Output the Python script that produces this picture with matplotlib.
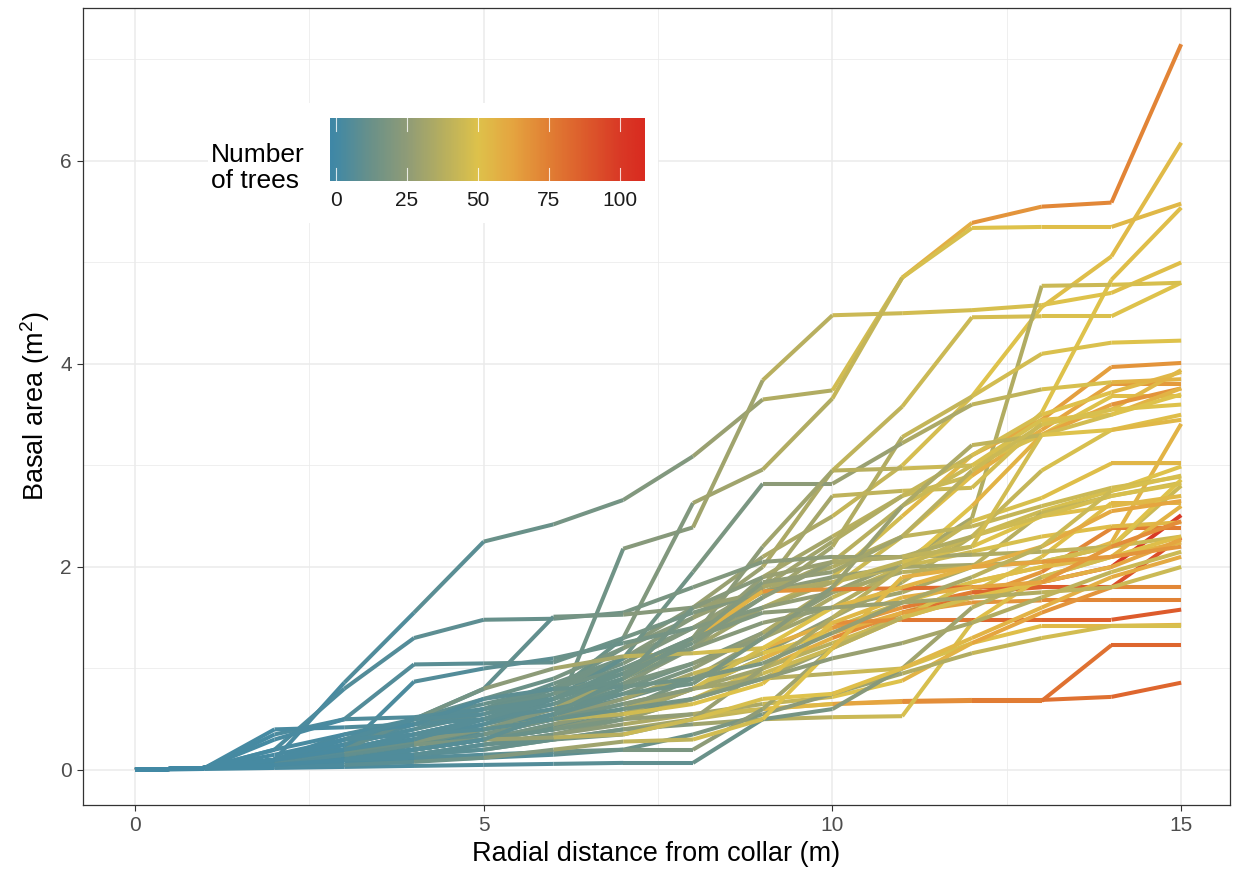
import matplotlib
matplotlib.use('Agg')
import matplotlib.pyplot as plt
import numpy as np
from matplotlib.collections import LineCollection
from matplotlib.colors import LinearSegmentedColormap, Normalize
from matplotlib.patches import Rectangle

plt.rcParams['font.family'] = ['Liberation Sans', 'DejaVu Sans']
plt.rcParams['mathtext.default'] = 'regular'

# radial distance (m)
distance = list(range(16))

# cumulative basal area (m2) per plot, one row per plot
basal_area = [
    [0, 0.02, 0.1, 0.86, 1.55, 2.25, 2.42, 2.66, 3.09, 3.65, 3.74, 4.85, 5.39, 5.55, 5.59, 7.15],
    [0, 0.02, 0.1, 0.3, 0.45, 0.6, 0.8, 1.2, 1.6, 2.1, 2.5, 3.0, 3.68, 4.56, 5.06, 6.18],
    [0, 0.02, 0.05, 0.1, 0.25, 0.35, 0.5, 0.8, 1.3, 1.9, 2.3, 2.7, 2.9, 3.52, 4.83, 5.54],
    [0, 0.02, 0.1, 0.2, 0.3, 0.35, 0.5, 2.18, 2.39, 3.84, 4.48, 4.5, 4.53, 4.58, 4.7, 5.0],
    [0, 0.02, 0.1, 0.2, 0.35, 0.5, 0.75, 1.3, 2.63, 2.96, 3.66, 4.85, 5.34, 5.35, 5.35, 5.58],
    [0, 0.02, 0.1, 0.25, 0.4, 0.55, 0.8, 1.1, 1.5, 2.0, 2.95, 3.58, 4.46, 4.47, 4.47, 4.8],
    [0, 0.02, 0.05, 0.15, 0.3, 0.45, 0.6, 0.8, 1.05, 1.35, 1.75, 2.05, 2.48, 4.77, 4.78, 4.8],
    [0, 0.02, 0.1, 0.2, 0.35, 0.5, 0.7, 0.95, 1.3, 1.7, 2.2, 3.28, 3.68, 4.1, 4.21, 4.23],
    [0, 0.02, 0.08, 0.2, 0.3, 0.45, 0.6, 0.85, 1.2, 1.6, 1.9, 2.5, 3.1, 3.45, 3.97, 4.01],
    [0, 0.02, 0.05, 0.12, 0.25, 0.4, 0.55, 0.75, 1.0, 1.35, 1.8, 2.3, 2.9, 3.35, 3.8, 3.8],
    [0, 0.02, 0.1, 0.25, 0.4, 0.6, 0.85, 1.1, 1.4, 1.75, 2.05, 2.6, 3.0, 3.3, 3.68, 3.68],
    [0, 0.02, 0.1, 0.2, 0.3, 0.5, 0.65, 0.9, 1.2, 1.8, 2.7, 2.75, 2.78, 3.42, 3.55, 3.94],
    [0, 0.02, 0.05, 0.1, 0.2, 0.3, 0.45, 0.6, 0.9, 1.3, 1.7, 2.0, 2.6, 3.3, 3.6, 3.76],
    [0, 0.02, 0.1, 0.25, 0.45, 0.6, 0.8, 1.05, 1.4, 1.8, 2.25, 2.7, 3.1, 3.5, 3.72, 3.92],
    [0, 0.02, 0.05, 0.15, 0.3, 0.45, 0.7, 1.1, 1.95, 2.82, 2.82, 3.22, 3.6, 3.75, 3.82, 3.85],
    [0, 0.02, 0.08, 0.2, 0.35, 0.5, 0.7, 1.0, 1.3, 2.2, 2.95, 2.97, 3.0, 3.45, 3.5, 3.76],
    [0, 0.02, 0.05, 0.1, 0.2, 0.3, 0.42, 0.55, 0.8, 1.1, 1.4, 1.65, 1.85, 2.0, 2.24, 3.41],
    [0, 0.02, 0.1, 0.2, 0.35, 0.5, 0.65, 0.85, 1.05, 1.3, 1.6, 2.0, 2.45, 2.68, 3.02, 3.02],
    [0, 0.02, 0.05, 0.15, 0.25, 0.4, 0.55, 0.7, 0.9, 1.15, 1.5, 1.85, 2.3, 2.55, 2.75, 2.99],
    [0, 0.02, 0.1, 0.3, 0.5, 0.7, 0.9, 1.2, 1.5, 1.8, 2.0, 2.3, 2.4, 2.6, 2.78, 2.89],
    [0, 0.02, 0.1, 0.35, 0.5, 0.65, 0.8, 1.0, 1.2, 1.45, 1.6, 1.75, 2.0, 2.53, 2.7, 2.83],
    [0, 0.02, 0.05, 0.1, 0.2, 0.3, 0.4, 0.55, 0.7, 0.9, 1.2, 1.55, 1.75, 2.1, 2.63, 2.63],
    [0, 0.02, 0.05, 0.12, 0.2, 0.3, 0.4, 0.5, 0.7, 1.0, 1.3, 1.55, 1.7, 1.85, 2.0, 2.51],
    [0, 0.02, 0.05, 0.1, 0.15, 0.25, 0.35, 0.5, 0.7, 0.95, 1.2, 1.5, 1.7, 1.95, 2.38, 2.38],
    [0, 0.02, 0.05, 0.1, 0.2, 0.3, 0.4, 0.55, 0.8, 1.1, 1.4, 1.6, 1.75, 1.8, 1.8, 2.29],
    [0, 0.02, 0.1, 0.2, 0.3, 0.4, 0.5, 0.65, 0.8, 1.0, 1.25, 1.5, 1.85, 2.0, 2.1, 2.24],
    [0, 0.02, 0.08, 0.25, 0.45, 0.6, 0.75, 0.95, 1.3, 1.6, 1.85, 2.0, 2.15, 2.3, 2.4, 2.44],
    [0, 0.02, 0.2, 0.8, 1.3, 1.48, 1.49, 1.55, 1.8, 2.05, 2.1, 2.1, 2.12, 2.15, 2.2, 2.3],
    [0, 0.02, 0.35, 0.5, 1.04, 1.05, 1.06, 1.3, 1.55, 1.75, 1.9, 2.0, 2.02, 2.05, 2.2, 2.8],
    [0, 0.02, 0.1, 0.2, 0.87, 1.0, 1.1, 1.25, 1.4, 1.6, 1.75, 1.95, 2.0, 2.05, 2.2, 2.86],
    [0, 0.02, 0.1, 0.3, 0.5, 0.8, 1.51, 1.53, 1.6, 1.75, 1.85, 2.05, 2.2, 2.5, 2.6, 2.7],
    [0, 0.02, 0.05, 0.12, 0.25, 0.4, 0.6, 0.9, 1.3, 1.76, 1.78, 1.79, 1.8, 1.8, 1.8, 1.8],
    [0, 0.02, 0.05, 0.1, 0.2, 0.35, 0.5, 0.7, 0.95, 1.15, 1.35, 1.55, 1.65, 1.67, 1.67, 1.67],
    [0, 0.02, 0.05, 0.1, 0.2, 0.3, 0.45, 0.6, 0.8, 1.2, 1.45, 1.48, 1.48, 1.48, 1.48, 1.58],
    [0, 0.02, 0.1, 0.2, 0.3, 0.4, 0.5, 0.65, 0.8, 0.9, 0.95, 1.0, 1.25, 1.42, 1.42, 1.43],
    [0, 0.02, 0.05, 0.1, 0.15, 0.2, 0.3, 0.4, 0.5, 0.6, 0.65, 0.67, 0.68, 0.68, 1.23, 1.23],
    [0, 0.02, 0.05, 0.1, 0.15, 0.25, 0.35, 0.45, 0.55, 0.6, 0.65, 0.68, 0.69, 0.69, 0.72, 0.86],
    [0, 0.02, 0.05, 0.1, 0.15, 0.2, 0.3, 0.4, 0.45, 0.5, 0.52, 0.53, 1.45, 1.9, 2.1, 2.6],
    [0, 0.02, 0.05, 0.1, 0.2, 0.3, 0.4, 0.5, 0.55, 0.65, 0.72, 0.88, 1.25, 1.55, 1.8, 1.8],
    [0, 0.02, 0.05, 0.08, 0.1, 0.12, 0.15, 0.2, 0.35, 0.55, 0.75, 0.95, 1.15, 1.3, 1.42, 1.42],
    [0, 0.01, 0.02, 0.03, 0.04, 0.05, 0.06, 0.07, 0.07, 0.5, 0.6, 1.0, 1.6, 1.9, 2.1, 2.3],
    [0, 0.02, 0.05, 0.1, 0.12, 0.15, 0.18, 0.2, 0.2, 0.6, 1.2, 1.5, 1.7, 1.85, 2.0, 2.27],
    [0, 0.02, 0.05, 0.1, 0.15, 0.25, 0.3, 0.35, 0.5, 1.0, 1.5, 2.0, 2.3, 2.5, 2.7, 2.82],
    [0, 0.02, 0.05, 0.15, 0.25, 0.3, 0.32, 0.35, 0.5, 0.7, 0.75, 1.0, 1.3, 1.6, 1.9, 2.1],
    [0, 0.02, 0.08, 0.18, 0.28, 0.4, 0.5, 0.55, 0.65, 0.85, 1.45, 1.7, 1.8, 1.85, 2.2, 2.45],
    [0, 0.02, 0.1, 0.2, 0.5, 0.8, 1.0, 1.12, 1.15, 1.2, 1.6, 1.8, 2.0, 2.2, 2.55, 2.65],
    [0, 0.02, 0.03, 0.05, 0.08, 0.12, 0.2, 0.28, 0.3, 0.5, 1.2, 1.9, 2.0, 2.05, 2.1, 2.2],
    [0, 0.02, 0.4, 0.42, 0.45, 0.5, 0.6, 0.75, 0.85, 1.3, 1.8, 2.6, 3.2, 3.3, 3.5, 3.7],
    [0, 0.02, 0.3, 0.5, 0.52, 0.6, 0.7, 0.95, 1.25, 1.7, 2.05, 2.1, 2.3, 2.95, 3.35, 3.5],
    [0, 0.02, 0.2, 0.35, 0.45, 0.7, 0.8, 0.82, 0.9, 1.05, 1.35, 1.65, 1.9, 2.2, 2.75, 2.9],
    [0, 0.02, 0.1, 0.3, 0.5, 0.55, 0.7, 0.9, 1.3, 1.55, 1.6, 1.65, 1.7, 1.75, 1.8, 2.0],
    [0, 0.02, 0.15, 0.3, 0.35, 0.4, 0.5, 0.6, 0.7, 0.9, 1.1, 1.25, 1.45, 1.7, 1.95, 2.15],
    [0, 0.02, 0.05, 0.1, 0.2, 0.3, 0.55, 0.9, 1.6, 1.9, 2.05, 2.1, 2.2, 3.3, 3.35, 3.45],
    [0, 0.02, 0.1, 0.2, 0.3, 0.5, 0.7, 1.0, 1.3, 1.85, 1.95, 2.3, 2.95, 3.4, 3.55, 3.6],
]

# cumulative number of trees per plot
n_trees = [
    [0, 1, 2, 4, 7, 12, 16, 20, 28, 36, 46, 58, 68, 72, 73, 78],
    [0, 1, 3, 5, 8, 12, 16, 22, 28, 34, 42, 47, 50, 52, 53, 55],
    [0, 1, 2, 4, 6, 9, 13, 20, 26, 32, 38, 44, 48, 50, 52, 54],
    [0, 1, 2, 4, 7, 10, 14, 22, 30, 38, 44, 46, 48, 50, 52, 53],
    [0, 1, 2, 4, 6, 9, 13, 20, 30, 36, 42, 48, 50, 52, 54, 56],
    [0, 1, 3, 5, 8, 12, 16, 22, 28, 34, 40, 44, 47, 49, 50, 52],
    [0, 1, 2, 4, 6, 9, 12, 16, 20, 24, 28, 32, 36, 44, 48, 50],
    [0, 1, 2, 4, 7, 10, 14, 19, 25, 30, 36, 42, 46, 49, 50, 51],
    [0, 1, 2, 4, 6, 10, 15, 22, 30, 38, 46, 54, 60, 64, 68, 72],
    [0, 1, 2, 3, 5, 8, 12, 18, 26, 34, 44, 52, 58, 62, 66, 70],
    [0, 1, 2, 4, 7, 11, 15, 20, 26, 32, 38, 44, 48, 50, 52, 53],
    [0, 1, 2, 4, 6, 9, 13, 18, 25, 32, 40, 44, 46, 50, 54, 58],
    [0, 1, 2, 3, 5, 8, 12, 18, 26, 34, 42, 50, 56, 62, 68, 70],
    [0, 1, 3, 5, 8, 11, 15, 20, 26, 31, 36, 42, 47, 51, 54, 56],
    [0, 1, 2, 3, 5, 7, 10, 14, 18, 24, 28, 34, 40, 48, 56, 62],
    [0, 1, 2, 4, 6, 9, 13, 18, 24, 30, 38, 44, 48, 52, 56, 60],
    [0, 1, 2, 4, 6, 10, 16, 22, 30, 38, 44, 48, 52, 54, 56, 58],
    [0, 1, 2, 4, 6, 9, 13, 18, 24, 30, 36, 42, 48, 52, 55, 56],
    [0, 1, 2, 3, 5, 8, 11, 15, 20, 26, 32, 38, 44, 48, 50, 52],
    [0, 1, 3, 6, 9, 13, 17, 22, 27, 32, 36, 40, 42, 44, 46, 47],
    [0, 1, 3, 6, 9, 12, 15, 18, 22, 26, 30, 34, 38, 42, 44, 45],
    [0, 1, 2, 3, 5, 7, 10, 15, 22, 30, 38, 44, 48, 52, 55, 56],
    [0, 1, 3, 6, 10, 16, 24, 34, 46, 58, 70, 80, 88, 94, 100, 104],
    [0, 1, 2, 5, 8, 13, 20, 28, 36, 44, 52, 60, 66, 72, 76, 78],
    [0, 1, 3, 6, 10, 15, 22, 32, 44, 56, 66, 76, 84, 88, 92, 95],
    [0, 1, 2, 4, 7, 11, 16, 22, 30, 38, 44, 48, 52, 54, 56, 57],
    [0, 1, 2, 5, 8, 12, 16, 21, 27, 33, 39, 44, 48, 52, 54, 55],
    [0, 1, 3, 5, 8, 11, 14, 17, 20, 24, 28, 32, 36, 40, 44, 46],
    [0, 1, 3, 5, 7, 10, 13, 16, 20, 24, 28, 32, 36, 40, 44, 48],
    [0, 1, 2, 3, 5, 8, 12, 16, 20, 26, 32, 38, 42, 46, 50, 54],
    [0, 1, 2, 4, 6, 10, 16, 22, 28, 34, 40, 46, 50, 52, 54, 56],
    [0, 1, 3, 7, 12, 20, 30, 42, 56, 68, 76, 82, 86, 88, 90, 90],
    [0, 1, 3, 6, 10, 16, 24, 32, 42, 50, 58, 64, 68, 72, 74, 75],
    [0, 1, 3, 6, 10, 16, 24, 34, 46, 58, 70, 78, 84, 86, 88, 90],
    [0, 1, 2, 4, 7, 11, 16, 22, 30, 38, 44, 48, 52, 54, 55, 56],
    [0, 1, 3, 6, 10, 16, 24, 32, 42, 52, 62, 70, 76, 80, 84, 86],
    [0, 1, 3, 6, 10, 16, 24, 34, 44, 54, 62, 70, 76, 80, 84, 88],
    [0, 1, 2, 4, 7, 11, 16, 22, 30, 38, 44, 48, 52, 54, 56, 58],
    [0, 1, 2, 4, 7, 12, 18, 26, 34, 42, 50, 56, 62, 68, 72, 74],
    [0, 1, 2, 3, 4, 6, 9, 13, 18, 24, 30, 36, 42, 46, 48, 50],
    [0, 1, 2, 3, 4, 5, 7, 9, 12, 16, 22, 30, 38, 46, 52, 56],
    [0, 1, 2, 4, 6, 9, 13, 18, 24, 30, 38, 46, 52, 58, 62, 65],
    [0, 1, 2, 4, 7, 11, 16, 22, 28, 33, 38, 42, 45, 47, 48, 49],
    [0, 2, 5, 10, 18, 28, 38, 44, 48, 50, 52, 54, 56, 58, 60, 62],
    [0, 2, 6, 12, 20, 30, 40, 46, 50, 52, 54, 58, 62, 66, 70, 72],
    [0, 2, 5, 10, 16, 24, 32, 40, 46, 50, 54, 56, 58, 60, 62, 63],
    [0, 1, 3, 7, 13, 20, 30, 40, 46, 50, 54, 58, 62, 66, 68, 70],
    [0, 1, 2, 4, 6, 8, 11, 14, 18, 22, 28, 34, 40, 46, 50, 52],
    [0, 1, 2, 4, 6, 9, 12, 16, 20, 25, 30, 36, 42, 48, 52, 55],
    [0, 1, 2, 3, 5, 8, 11, 14, 18, 22, 27, 33, 39, 44, 48, 50],
    [0, 1, 2, 4, 6, 9, 12, 16, 20, 24, 28, 32, 36, 40, 44, 46],
    [0, 1, 2, 4, 6, 9, 12, 16, 20, 24, 28, 32, 36, 40, 44, 46],
    [0, 1, 2, 4, 6, 9, 12, 16, 22, 28, 34, 40, 46, 50, 54, 57],
    [0, 1, 2, 4, 6, 9, 12, 16, 21, 26, 31, 38, 44, 48, 50, 52],
]

cbar_ticks = [0, 25, 50, 75, 100]

# colour scale (blue - yellow - red)
vmin, vmax = -2.1, 108.8
stops = [(-2.1, '#3F87A6'), (0, '#4389A4'), (12, '#6A9189'), (25, '#909C77'),
         (37, '#B5AE60'), (50, '#DEC24B'), (62, '#E5A540'), (75, '#E17F34'),
         (88, '#DD5B2C'), (100, '#D93A26'), (108.8, '#D92B20')]
cmap = LinearSegmentedColormap.from_list(
    'trees', [((v - vmin) / (vmax - vmin), c) for v, c in stops])
norm = Normalize(vmin, vmax)

W, H = 1236, 877
fig = plt.figure(figsize=(W / 100, H / 100), dpi=100)
ax = fig.add_axes([83 / W, 1 - 805 / H, (1230 - 83) / W, (805 - 8) / H])

for ys, ns in zip(basal_area, n_trees):
    pts = np.column_stack([distance, ys])
    segs = np.stack([pts[:-1], pts[1:]], axis=1)
    lc = LineCollection(segs, colors=cmap(norm(np.array(ns[:-1]))),
                        linewidths=2.9, capstyle='butt', joinstyle='round', zorder=3)
    ax.add_collection(lc)

ax.set_xlim(-0.746, 15.70)
ax.set_ylim(-0.345, 7.507)
ax.set_xticks([0, 5, 10, 15])
ax.set_xticks([2.5, 7.5, 12.5], minor=True)
ax.set_yticks([0, 2, 4, 6])
ax.set_yticks([1, 3, 5, 7], minor=True)
ax.grid(which='major', color='#EBEBEB', linewidth=1.1, zorder=0)
ax.grid(which='minor', color='#EBEBEB', linewidth=0.55, zorder=0)
ax.set_axisbelow(True)
ax.tick_params(which='major', length=4, width=0.8, color='#333333',
               labelsize=15, labelcolor='#4D4D4D', pad=4)
ax.tick_params(which='minor', length=0)
for s in ax.spines.values():
    s.set_color('#333333')
    s.set_linewidth(0.9)

ax.set_xlabel('Radial distance from collar (m)', fontsize=19.5, labelpad=4)
ax.set_ylabel('Basal area (m$^{2}$)', fontsize=19.5, labelpad=6)

# legend background
ax.add_patch(Rectangle((208 / W, 1 - 223 / H), (658 - 208) / W, (223 - 103) / H,
                       transform=fig.transFigure, facecolor='white',
                       edgecolor='none', zorder=2))

# colourbar
cax = fig.add_axes([330 / W, 1 - 181 / H, (645 - 330) / W, (181 - 118) / H])
grad = np.linspace(vmin, vmax, 300).reshape(1, -1)
cax.imshow(grad, aspect='auto', cmap=cmap, norm=norm,
           extent=[vmin, vmax, 0, 1])
cax.set_xlim(vmin, vmax)
cax.set_ylim(0, 1)
for t in cbar_ticks:
    cax.plot([t, t], [0, 0.2], color='white', lw=0.8, alpha=0.8)
    cax.plot([t, t], [0.8, 1], color='white', lw=0.8, alpha=0.8)
cax.set_xticks(cbar_ticks)
cax.set_xticklabels([str(t) for t in cbar_ticks])
cax.tick_params(axis='x', length=0, labelsize=15, labelcolor='#1A1A1A', pad=7)
cax.set_yticks([])
for s in cax.spines.values():
    s.set_visible(False)

fig.text(211 / W, 1 - 168 / H, 'Number\nof trees', fontsize=19, ha='left',
         va='center', linespacing=1.1)

fig.savefig('out.png', dpi=100)
